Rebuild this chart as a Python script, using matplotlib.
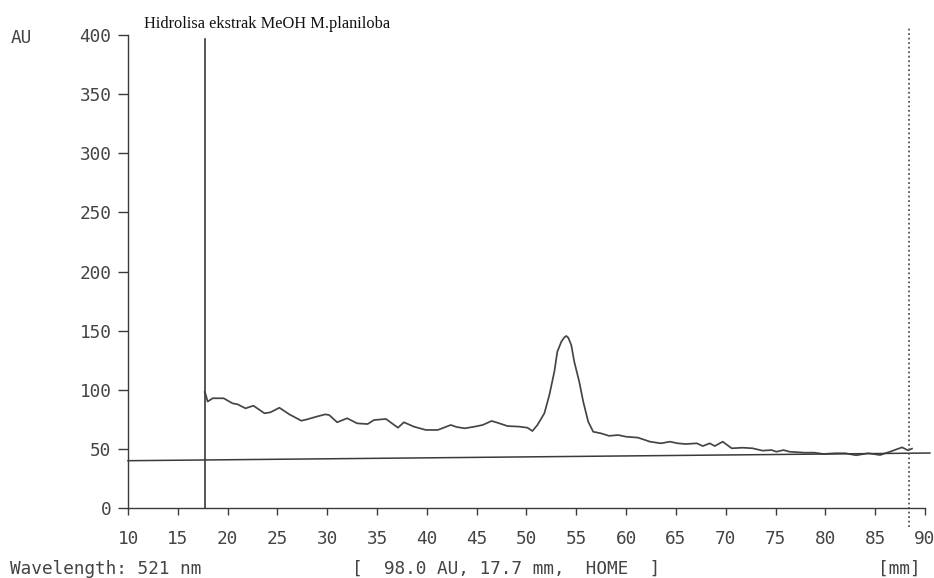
import matplotlib
matplotlib.use("Agg")
import matplotlib.pyplot as plt

# chromatogram trace: retention (mm) vs absorbance (AU)
pos_mm = [17.7, 17.8, 18.0, 18.5, 19.6, 20.5, 21.0, 21.8, 22.6, 23.7, 24.3, 25.2,
          26.2, 27.4, 28.0, 28.9, 29.8, 30.2, 31.0, 32.0, 33.0, 34.05, 34.7, 35.9,
          37.1, 37.7, 38.7, 39.9, 41.1, 42.4, 43.0, 43.8, 44.8, 45.6, 46.5, 47.1,
          48.1, 49.3, 50.1, 50.6, 51.1, 51.8, 52.3, 52.8, 53.1, 53.5, 53.8, 54.0,
          54.2, 54.5, 54.8, 55.3, 55.7, 56.2, 56.7, 57.5, 58.3, 59.2, 60.0, 61.2,
          62.4, 63.5, 64.4, 65.2, 66.0, 67.1, 67.7, 68.4, 68.9, 69.7, 70.6, 71.7,
          72.7, 73.7, 74.6, 75.1, 75.8, 76.4, 77.9, 78.9, 79.8, 81.0, 82.0, 83.1,
          84.3, 85.5, 86.5, 87.7, 88.3, 88.7]
absorb = [98.0, 96.0, 90.0, 92.8, 92.8, 88.5, 87.7, 84.3, 86.5, 80.1, 80.9, 84.8,
          79.2, 73.8, 75.0, 77.2, 79.2, 78.6, 72.5, 75.9, 71.6, 71.0, 74.4, 75.3,
          67.9, 72.5, 68.8, 66.0, 66.0, 70.2, 68.5, 67.4, 68.8, 70.2, 73.6, 72.1,
          69.3, 68.8, 67.9, 65.1, 70.2, 80.1, 95.6, 115.3, 132.2, 140.6, 144.3, 145.5,
          144.0, 137.8, 123.7, 106.8, 89.9, 73.0, 64.5, 63.1, 61.0, 61.7, 60.3, 59.5,
          56.1, 54.7, 56.1, 54.7, 54.1, 54.7, 52.4, 54.7, 52.4, 56.1, 50.5, 51.0,
          50.5, 48.5, 49.0, 47.6, 49.0, 47.6, 46.8, 46.8, 45.7, 46.3, 46.3, 44.6,
          46.3, 44.8, 47.6, 51.3, 48.8, 50.2]

# baseline drawn under the trace
base_x = [10, 90.5]
base_y = [40.0, 46.5]

cursor_mm = 17.7
cursor_au = 98.0
end_mm = 88.4

x_ticks = list(range(10, 95, 5))
y_ticks = list(range(0, 450, 50))

ink = "#3a3a3a"
txt = "#444444"
mono = "DejaVu Sans Mono"

fig = plt.figure(figsize=(9.34, 5.78), dpi=100)
ax = fig.add_axes([0.1370, 0.1211, 0.8533, 0.8183])

ax.plot(pos_mm, absorb, color="#454545", lw=1.25)
ax.plot(base_x, base_y, color=ink, lw=1.1, clip_on=False)
ax.plot([cursor_mm, cursor_mm], [0, 397], color=ink, lw=1.2)
ax.plot([end_mm, end_mm], [-16, 406], color="#555555", lw=1.3,
        linestyle=(0, (1, 1.5)), clip_on=False)

ax.set_xlim(10, 90)
ax.set_ylim(0, 400)
ax.set_xticks(x_ticks)
ax.set_yticks(y_ticks)
for s in ["top", "right"]:
    ax.spines[s].set_visible(False)
for s in ["left", "bottom"]:
    ax.spines[s].set_color(ink)
    ax.spines[s].set_linewidth(1.0)

ax.tick_params(axis="x", direction="out", length=5, width=1.0, color=ink,
               pad=11, labelsize=12.8, labelcolor=txt)
ax.tick_params(axis="y", direction="out", length=7, width=1.0, color=ink,
               pad=5, labelsize=12.8, labelcolor=txt)
for lab in ax.get_xticklabels() + ax.get_yticklabels():
    lab.set_family(mono)

fig.text(0.011, 0.935, "AU", family=mono, fontsize=12.8, color=txt,
         ha="left", va="center")
fig.text(0.154, 0.9516, "Hidrolisa ekstrak MeOH M.planiloba",
         family="Liberation Serif", fontsize=11.8, color="#111111",
         ha="left", va="baseline")
fig.text(0.011, 0.0156, "Wavelength: 521 nm", family=mono, fontsize=12.8,
         color=txt, ha="left", va="center")
fig.text(0.3765, 0.0156,
         f"[  {cursor_au:.1f} AU, {cursor_mm:.1f} mm,  HOME  ]",
         family=mono, fontsize=12.8, color=txt, ha="left", va="center")
fig.text(0.986, 0.0156, "[mm]", family=mono, fontsize=12.8, color=txt,
         ha="right", va="center")

fig.savefig("out.png", dpi=100, facecolor="white")
